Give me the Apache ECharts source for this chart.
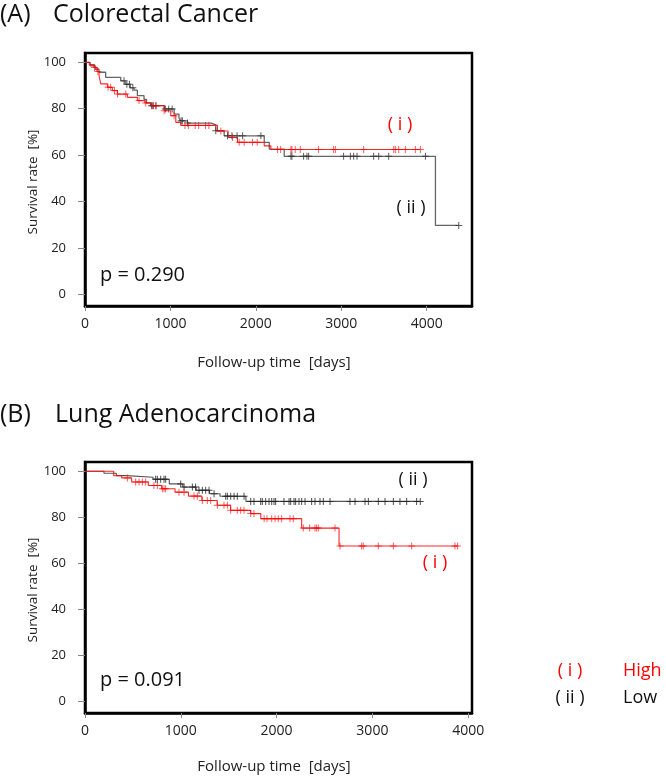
<!DOCTYPE html>
<html>
<head>
<meta charset="utf-8">
<script src="https://cdn.jsdelivr.net/npm/echarts@6/dist/echarts.min.js"></script>
<style>
html,body{margin:0;padding:0;background:#fff;}
#chart{width:666px;height:779px;}
</style>
</head>
<body>
<div id="chart"></div>
<script>
// ---------- data ----------
const xTickValues = [0, 1000, 2000, 3000, 4000];
const yTickValues = [0, 20, 40, 60, 80, 100];

// (A) Colorectal Cancer — Kaplan–Meier steps [days, survival %]
const crcHighSteps = [[0,100],[50,99],[105,97.8],[140,96],[164,94.3],[184,90.7],[262,89.2],[320,87.8],[379,86.3],[496,84.9],[613,83.5],[700,82.5],[770,81.3],[926,79.1],[1004,77],[1063,74.1],[1121,72.8],[1551,70.4],[1676,67.6],[1785,65.5],[2098,64],[2176,62.4],[3926,62.4]];
const crcHighCensor = [110,150,270,300,345,380,477,633,711,790,830,926,1043,1170,1210,1290,1330,1410,1450,1590,1727,1805,1863,1960,2016,2254,2290,2410,2422,2461,2520,2734,2910,2930,3262,3614,3633,3672,3750,3867,3926];
const crcLowSteps = [[0,100],[60,98.5],[120,97],[164,95.7],[242,93.5],[418,92],[470,90.5],[530,89],[574,88],[613,85.6],[691,84],[720,82.5],[770,81.3],[930,79.9],[1043,77.7],[1100,76],[1121,74.8],[1200,73.8],[1480,73],[1531,70.5],[1629,68.3],[2098,65.5],[2157,62.6],[2332,59.5],[4102,29.7],[4375,29.7]];
const crcLowCensor = [457,490,520,560,780,800,830,940,980,1020,1125,1140,1200,1531,1668,1720,1780,1845,2059,2410,2422,2559,2598,2618,3027,3106,3145,3184,3379,3438,3555,3985,4375];

// (B) Lung Adenocarcinoma
const lungHighSteps = [[0,100],[300,98],[383,97.1],[487,95.3],[661,93.8],[800,92.4],[940,90.9],[1080,89.2],[1220,87.3],[1380,85.2],[1520,83],[1730,81.6],[1835,79.4],[2262,75.3],[2652,67.5],[3890,67.5]];
const lungHighCensor = [442,529,564,599,633,720,755,807,825,842,981,1034,1138,1173,1225,1277,1312,1382,1451,1486,1521,1590,1625,1660,1730,1764,1870,1900,1949,1984,2018,2053,2140,2175,2279,2345,2401,2418,2436,2610,2662,2888,2905,3062,3219,3410,3862,3890];
const lungLowSteps = [[0,100],[198,99.1],[327,98.1],[435,97.4],[710,96.5],[880,94.5],[1020,93.1],[1160,91.7],[1300,90.2],[1410,89.1],[1680,86.9],[3500,86.9]];
const lungLowCensor = [738,755,790,825,842,999,1034,1121,1155,1190,1225,1260,1295,1347,1469,1486,1521,1556,1590,1660,1730,1764,1834,1851,1886,1921,1949,1973,1990,2077,2130,2147,2182,2199,2234,2262,2297,2366,2401,2453,2488,2558,2766,2819,2923,2958,3062,3132,3219,3288,3358,3462,3500];

const panelTitles = ['(A)', 'Colorectal Cancer', '(B)', 'Lung Adenocarcinoma'];
const pValues = ['p = 0.290', 'p = 0.091'];
const groupLabels = ['( i )', '( ii )'];
const groupNames = ['High', 'Low'];
const xAxisTitle = 'Follow-up time  [days]';
const yAxisTitle = 'Survival rate  [%]';

// ---------- helpers ----------
function survivalAt(steps, t) {
  let v = steps[0][1];
  for (const p of steps) { if (p[0] <= t) v = p[1]; else break; }
  return v;
}
function censorPoints(steps, times) { return times.map(t => [t, survivalAt(steps, t)]); }

const FONT = 'Open Sans';
const RED = '#ff0000';
const plusSym = 'path://M3,0h1v7h-1zM0,3h7v1h-7z';

function xAxisCfg(gi, max) {
  return {
    gridIndex: gi, type: 'value', min: 0, max: max,
    axisLine: { show: true, onZero: false, lineStyle: { color: '#000', width: 2.5 } },
    axisTick: { show: true, customValues: xTickValues, length: 5, lineStyle: { color: '#888', width: 1 } },
    axisLabel: { customValues: xTickValues, fontSize: 14, color: '#222', margin: 11, fontFamily: FONT,
      formatter: v => String(v) },
    splitLine: { show: false }
  };
}
function yAxisCfg(gi) {
  return {
    gridIndex: gi, type: 'value', min: -5, max: 104,
    axisLine: { show: true, onZero: false, lineStyle: { color: '#000', width: 2.5 } },
    axisTick: { show: true, customValues: yTickValues, length: 7, lineStyle: { color: '#888', width: 1 } },
    axisLabel: { customValues: yTickValues, fontSize: 13, color: '#222', margin: 19, fontFamily: FONT,
      formatter: v => String(v) },
    splitLine: { show: false }
  };
}
function lineSeries(gi, data, color, width) {
  return { type: 'line', xAxisIndex: gi, yAxisIndex: gi, data: data, step: 'end', showSymbol: false, symbol: 'none',
    lineStyle: { color: color, width: width }, silent: true, z: 3 };
}
function censorSeries(gi, data, color) {
  return { type: 'scatter', xAxisIndex: gi, yAxisIndex: gi, data: data, symbol: plusSym, symbolSize: [7, 7],
    itemStyle: { color: color }, silent: true, z: 4 };
}
function txt(x, y, text, size, color, align, extra) {
  return Object.assign({ type: 'text', x: x, y: y, silent: true,
    style: { text: text, fontSize: size, fill: color, fontFamily: FONT, align: align || 'left', verticalAlign: 'middle' } }, extra || {});
}

const chart = echarts.init(document.getElementById('chart'), null, { renderer: 'canvas' });
chart.setOption({
  animation: false,
  backgroundColor: '#fff',
  grid: [
    { left: 85, top: 53, width: 387, height: 253, show: true, borderColor: '#000', borderWidth: 2.5, backgroundColor: '#fff' },
    { left: 85, top: 462, width: 387, height: 251, show: true, borderColor: '#000', borderWidth: 2.5, backgroundColor: '#fff' }
  ],
  xAxis: [xAxisCfg(0, 4530), xAxisCfg(1, 4040)],
  yAxis: [yAxisCfg(0), yAxisCfg(1)],
  series: [
    lineSeries(0, crcLowSteps, '#666', 1.3),
    censorSeries(0, censorPoints(crcLowSteps, crcLowCensor), '#333'),
    lineSeries(0, crcHighSteps, 'rgba(255,0,0,0.85)', 1.1),
    censorSeries(0, censorPoints(crcHighSteps, crcHighCensor), 'rgba(255,0,0,0.8)'),
    lineSeries(1, lungLowSteps, '#555', 1.1),
    censorSeries(1, censorPoints(lungLowSteps, lungLowCensor), '#222'),
    lineSeries(1, lungHighSteps, 'rgba(255,0,0,0.85)', 1.1),
    censorSeries(1, censorPoints(lungHighSteps, lungHighCensor), 'rgba(255,0,0,0.8)')
  ],
  graphic: [
    txt(0, 15, panelTitles[0], 25, '#111'),
    txt(53, 15, panelTitles[1], 25, '#111'),
    txt(0, 415, panelTitles[2], 25, '#111'),
    txt(55, 415, panelTitles[3], 25, '#111'),
    txt(100, 275, pValues[0], 20, '#111'),
    txt(100, 680, pValues[1], 20, '#111'),
    txt(400, 125, groupLabels[0], 18, RED, 'center'),
    txt(411, 208, groupLabels[1], 18, '#111', 'center'),
    txt(413, 480, groupLabels[1], 18, '#111', 'center'),
    txt(435, 563, groupLabels[0], 18, RED, 'center'),
    txt(570, 671, groupLabels[0], 18, RED, 'center'),
    txt(623, 671, groupNames[0], 18, RED),
    txt(570, 698, groupLabels[1], 18, '#111', 'center'),
    txt(623, 698, groupNames[1], 18, '#111'),
    txt(274, 363, xAxisTitle, 15, '#222', 'center'),
    txt(274, 767, xAxisTitle, 15, '#222', 'center'),
    txt(33, 182, yAxisTitle, 13.5, '#222', 'center', { rotation: Math.PI / 2 }),
    txt(33, 590, yAxisTitle, 13.5, '#222', 'center', { rotation: Math.PI / 2 })
  ]
});
</script>
</body>
</html>
